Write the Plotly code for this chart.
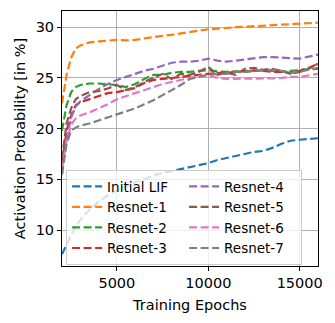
import plotly.graph_objects as go

epochs = [2000, 2250, 2500, 2750, 3000, 3500, 4000, 4500, 5000, 5500, 6000, 6500, 7000, 7500, 8000,
          8500, 9000, 9500, 10000, 10500, 11000, 11500, 12000, 12500, 13000, 13500, 14000, 14500,
          15000, 15500, 16000]

initial_lif = [7.6, 8.6, 9.5, 10.3, 11.0, 12.0, 12.8, 13.4, 13.9, 14.3, 14.7, 15.0, 15.4, 15.6, 15.8,
               16.0, 16.2, 16.4, 16.6, 16.9, 17.1, 17.3, 17.5, 17.7, 17.8, 18.1, 18.5, 18.8,
               18.9, 18.95, 19.05]
resnet_1 = [22.5, 25.3, 27.0, 27.9, 28.2, 28.5, 28.6, 28.65, 28.75, 28.7, 28.75, 28.9, 29.05, 29.15, 29.25,
            29.4, 29.55, 29.7, 29.8, 29.85, 29.95, 30.0, 30.05, 30.1, 30.15, 30.2, 30.25, 30.3,
            30.35, 30.4, 30.45]
resnet_2 = [19.8, 22.3, 23.6, 24.1, 24.3, 24.45, 24.45, 24.35, 24.3, 24.1, 24.4, 24.9, 25.3, 25.3, 25.5,
            25.6, 25.6, 25.7, 25.75, 25.65, 25.6, 25.65, 25.6, 25.7, 25.75, 25.7, 25.6, 25.7,
            25.8, 25.85, 25.9]
resnet_3 = [16.5, 19.8, 21.3, 22.3, 22.6, 22.9, 23.2, 23.5, 23.6, 23.8, 24.0, 24.5, 24.8, 24.9, 25.0,
            25.1, 25.2, 25.3, 25.4, 25.5, 25.5, 25.6, 25.7, 25.75, 25.7, 25.6, 25.6, 25.5,
            25.7, 26.0, 26.4]
resnet_4 = [15.5, 19.0, 21.1, 22.2, 22.7, 23.3, 23.9, 24.4, 24.8, 25.1, 25.4, 25.7, 25.9, 26.2, 26.5,
            26.6, 26.6, 26.7, 26.9, 26.7, 26.6, 26.7, 26.8, 26.9, 27.05, 27.05, 27.0, 26.9,
            26.9, 27.1, 27.3]
resnet_5 = [17.0, 20.5, 22.0, 22.9, 23.2, 23.6, 23.7, 23.95, 24.3, 23.8, 24.1, 24.6, 25.0, 25.4, 24.9,
            25.4, 25.3, 25.6, 26.1, 25.3, 25.5, 25.3, 25.9, 26.0, 25.8, 25.9, 25.7, 25.4,
            25.6, 25.9, 26.4]
resnet_6 = [16.0, 18.8, 20.4, 21.0, 21.3, 21.6, 22.0, 22.4, 22.9, 23.2, 23.5, 23.8, 24.1, 24.4, 24.6,
            24.8, 25.0, 25.2, 25.25, 25.0, 24.9, 24.9, 24.95, 24.95, 24.9, 24.95, 25.0, 25.1,
            25.1, 25.25, 25.4]
resnet_7 = [15.5, 18.5, 19.8, 20.1, 20.3, 20.5, 20.8, 21.1, 21.4, 21.7, 22.0, 22.4, 22.8, 23.3, 23.8,
            24.3, 24.9, 25.1, 25.3, 25.4, 25.4, 25.6, 25.6, 25.7, 25.75, 25.8, 25.7, 25.5,
            25.6, 25.8, 26.0]

names = ["Initial LIF", "Resnet-1", "Resnet-2", "Resnet-3", "Resnet-4", "Resnet-5", "Resnet-6", "Resnet-7"]
series = [initial_lif, resnet_1, resnet_2, resnet_3, resnet_4, resnet_5, resnet_6, resnet_7]
colors = ["#1f77b4", "#ff7f0e", "#2ca02c", "#d62728", "#9467bd", "#8c564b", "#e377c2", "#7f7f7f"]
# legend is filled row by row in plotly, so interleave the two columns
ranks = [1, 3, 5, 7, 2, 4, 6, 8]

x_ticks = [5000, 10000, 15000]
x_ticktext = ["5000", "10000", "15000"]
y_ticks = [10, 15, 20, 25, 30]

fig = go.Figure()
for name, ys, c, r in zip(names, series, colors, ranks):
    fig.add_trace(go.Scatter(x=epochs, y=ys, name=name, mode="lines", legendrank=r,
                             line=dict(color=c, width=2.2, dash="8px,3.5px")))

font = dict(family="DejaVu Sans", size=14.5, color="black")
axis = dict(showline=True, linecolor="black", linewidth=1, mirror=True, ticks="outside",
            ticklen=4, tickwidth=1, tickcolor="black", showgrid=True, gridcolor="#b0b0b0",
            gridwidth=1, zeroline=False, tickfont=font, automargin=False)
fig.update_xaxes(axis, range=[2000, 16000], tickvals=x_ticks, ticktext=x_ticktext,
                 title=dict(text="Training Epochs", font=font, standoff=9))
fig.update_yaxes(axis, range=[6.45, 31.6], tickvals=y_ticks,
                 title=dict(text="Activation Probability [in %]", font=font, standoff=6))
# the page body adds an 8px margin, so the figure is 8px smaller than the window
fig.update_layout(
    width=327, height=315, margin=dict(l=54, r=17, t=3, b=57),
    plot_bgcolor="white", paper_bgcolor="white", font=font,
    legend=dict(orientation="h", x=0.016, y=0.19, xanchor="left", yanchor="middle",
                entrywidth=72, bgcolor="rgba(255,255,255,0.8)", bordercolor="#cccccc",
                borderwidth=1, font=dict(family="DejaVu Sans", size=13.5, color="black"),
                itemwidth=30, tracegroupgap=0),
)
fig.write_html("out.html")
